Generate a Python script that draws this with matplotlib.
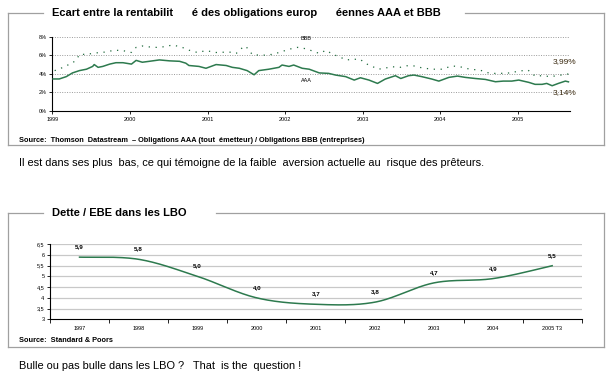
import numpy as np
import matplotlib
matplotlib.use("Agg")
import matplotlib.pyplot as plt
from matplotlib.lines import Line2D

plt.rcParams['font.family'] = ['Liberation Sans', 'DejaVu Sans']

W, H = 610, 378

# top chart : AAA / BBB yields in %, x in decimal years
aaa_t = [1999.01, 1999.09, 1999.18, 1999.26, 1999.35, 1999.44, 1999.52, 1999.54, 1999.59,
         1999.65, 1999.74, 1999.82, 1999.91, 2000.02, 2000.08, 2000.16, 2000.25, 2000.38,
         2000.51, 2000.64, 2000.72, 2000.76, 2000.89, 2000.98, 2001.11, 2001.24, 2001.32,
         2001.41, 2001.51, 2001.60, 2001.66, 2001.79, 2001.92, 2001.96, 2002.05, 2002.11,
         2002.22, 2002.31, 2002.44, 2002.56, 2002.65, 2002.78, 2002.89, 2002.97, 2003.08,
         2003.19, 2003.29, 2003.42, 2003.49, 2003.59, 2003.66, 2003.76, 2003.89, 2003.98,
         2004.11, 2004.22, 2004.32, 2004.45, 2004.58, 2004.71, 2004.81, 2004.92, 2005.01,
         2005.14, 2005.22, 2005.31, 2005.37, 2005.44, 2005.52, 2005.61, 2005.65]
aaa_v = [3.45, 3.45, 3.7, 4.1, 4.35, 4.5, 4.8, 5.0, 4.7,
         4.8, 5.05, 5.2, 5.2, 5.05, 5.45, 5.25, 5.35, 5.5,
         5.4, 5.35, 5.15, 4.9, 4.8, 4.6, 5.0, 4.9, 4.7,
         4.6, 4.35, 3.9, 4.35, 4.5, 4.7, 4.95, 4.8, 4.95,
         4.6, 4.5, 4.1, 4.05, 3.87, 3.7, 3.33, 3.58, 3.33,
         2.97, 3.44, 3.8, 3.5, 3.8, 3.87, 3.7, 3.44, 3.22,
         3.62, 3.76, 3.62, 3.5, 3.4, 3.15, 3.22, 3.22, 3.33,
         3.08, 2.87, 2.87, 2.97, 2.72, 2.97, 3.22, 3.14]

bbb_t = [1999.03, 1999.09, 1999.18, 1999.24, 1999.31, 1999.35, 1999.44, 1999.52, 1999.61,
         1999.69, 1999.80, 1999.91, 2000.02, 2000.08, 2000.16, 2000.25, 2000.34, 2000.42,
         2000.55, 2000.66, 2000.76, 2000.87, 2000.98, 2001.11, 2001.28, 2001.37, 2001.43,
         2001.49, 2001.58, 2001.71, 2001.84, 2001.96, 2002.05, 2002.16, 2002.27, 2002.44,
         2002.53, 2002.61, 2002.70, 2002.78, 2002.87, 2002.96, 2003.04, 2003.13, 2003.20,
         2003.28, 2003.37, 2003.48, 2003.57, 2003.66, 2003.76, 2003.89, 2004.02, 2004.15,
         2004.25, 2004.38, 2004.51, 2004.64, 2004.77, 2004.90, 2005.01, 2005.13, 2005.22,
         2005.31, 2005.42, 2005.65]
bbb_v = [4.35, 4.5, 4.9, 5.05, 5.5, 6.1, 6.1, 6.2, 6.3,
         6.35, 6.55, 6.5, 6.3, 6.85, 7.0, 6.9, 6.85, 6.9,
         7.1, 6.9, 6.55, 6.3, 6.5, 6.3, 6.35, 6.2, 6.7,
         7.0, 6.05, 6.0, 6.1, 6.4, 6.65, 6.85, 6.7, 6.2,
         6.55, 6.1, 5.85, 5.5, 5.55, 5.6, 5.1, 4.77, 4.5,
         4.6, 4.77, 4.7, 4.87, 4.85, 4.65, 4.5, 4.5, 4.85,
         4.77, 4.5, 4.4, 4.05, 4.05, 4.1, 4.3, 4.4, 3.76,
         3.8, 3.7, 3.99]

years = [1999, 2000, 2001, 2002, 2003, 2004, 2005]
pct_ticks = [0, 2, 4, 6, 8]

# bottom chart : dette / EBE
lbo_cats = ["1997", "1998", "1999", "2000", "2001", "2002", "2003", "2004", "2005 T3"]
lbo_vals = [5.9, 5.8, 5.0, 4.0, 3.7, 3.8, 4.7, 4.9, 5.5]
lbo_ticks = [3, 3.5, 4, 4.5, 5, 5.5, 6, 6.5]

GREEN = '#2d7a4e'
DOT_GREEN = '#1f6a3c'
FRAME = '#a0a0a0'


def fx(x):
    return x / W


def fy(y):
    return 1 - y / H


def frame(fig, left, top, right, bottom, gap):
    kw = dict(color=FRAME, lw=0.9, transform=fig.transFigure)
    fig.lines.append(Line2D([fx(left), fx(left)], [fy(top), fy(bottom)], **kw))
    fig.lines.append(Line2D([fx(right), fx(right)], [fy(top), fy(bottom)], **kw))
    fig.lines.append(Line2D([fx(left), fx(right)], [fy(bottom), fy(bottom)], **kw))
    fig.lines.append(Line2D([fx(left), fx(gap[0])], [fy(top), fy(top)], **kw))
    fig.lines.append(Line2D([fx(gap[1]), fx(right)], [fy(top), fy(top)], **kw))


def smooth(xs, ys, n=40):
    # excel-like smoothed line (bezier through the points)
    p = np.column_stack([xs, ys])
    out = []
    for i in range(len(p) - 1):
        p0 = p[max(i - 1, 0)]
        p1 = p[i]
        p2 = p[i + 1]
        p3 = p[min(i + 2, len(p) - 1)]
        c1 = p1 + (p2 - p0) / 6
        c2 = p2 - (p3 - p1) / 6
        t = np.linspace(0, 1, n)[:, None]
        out.append((1 - t) ** 3 * p1 + 3 * (1 - t) ** 2 * t * c1 + 3 * (1 - t) * t ** 2 * c2 + t ** 3 * p2)
    return np.vstack(out)


def axes_px(fig, left, top, right, bottom):
    return fig.add_axes([fx(left), fy(bottom), (right - left) / W, (bottom - top) / H])


fig = plt.figure(figsize=(W / 100, H / 100), dpi=100)

# ---------------- top panel
frame(fig, 8, 12.5, 604, 145, (43, 465))
fig.text(fx(51.7), fy(12.5), "Ecart entre la rentabilit      é des obligations europ      éennes AAA et BBB",
         fontsize=8, fontweight='bold', ha='left', va='center')

ax = axes_px(fig, 52.3, 36.7, 570, 111)
ax.set_xlim(1999, 2005.67)
ax.set_ylim(0, 8)
for v in pct_ticks[1:]:
    ax.axhline(v, color='#9a9a9a', lw=0.7, ls=(0, (1, 1.5)), zorder=1)
ax.plot(aaa_t, aaa_v, color=GREEN, lw=1.1, zorder=3)
ax.plot(bbb_t, bbb_v, color=DOT_GREEN, lw=0.9, ls=(0, (1, 4.5)), zorder=3)
ax.set_xticks(years)
ax.set_xticklabels([str(y) for y in years])
ax.set_yticks(pct_ticks)
ax.set_yticklabels([f"{v}%" for v in pct_ticks])
ax.tick_params(labelsize=4, length=2, width=0.6, pad=2)
for s in ['top', 'right']:
    ax.spines[s].set_visible(False)
for s in ['left', 'bottom']:
    ax.spines[s].set_linewidth(0.8)
ax.patch.set_alpha(0)
ax.text(2002.27, 7.85, "BBB", fontsize=4, ha='center', va='center')
ax.text(2002.27, 3.3, "AAA", fontsize=4, ha='center', va='center')
ax.annotate("3,99%", (bbb_t[-1], bbb_v[-1]), xytext=(-3, 9), textcoords='offset points',
            fontsize=6, ha='center', va='center', color='#3a2a10')
ax.annotate("3,14%", (aaa_t[-1], aaa_v[-1]), xytext=(-3, -7.5), textcoords='offset points',
            fontsize=6, ha='center', va='center', color='#3a2a10')

fig.text(fx(18.7), fy(140), "Source:  Thomson  Datastream  \u2013 Obligations AAA (tout  émetteur) / Obligations BBB (entreprises)",
         fontsize=5.3, fontweight='bold', ha='left', va='center')

fig.text(fx(18.7), fy(163.3),
         "Il est dans ses plus  bas, ce qui témoigne de la faible  aversion actuelle au  risque des prêteurs.",
         fontsize=7.9, ha='left', va='center')

# ---------------- bottom panel
frame(fig, 8, 213.3, 604, 346.7, (43, 216))
fig.text(fx(51.7), fy(213.3), "Dette / EBE dans les LBO", fontsize=8, fontweight='bold',
         ha='left', va='center')

bx = axes_px(fig, 50, 244.3, 581.7, 319.3)
n = len(lbo_cats)
xc = np.arange(n) + 0.5
bx.set_xlim(0, n)
bx.set_ylim(3, 6.5)
for v in lbo_ticks[1:]:
    bx.axhline(v, color='#c8c8c8', lw=0.9, zorder=1)
curve = smooth(xc, lbo_vals)
bx.plot(curve[:, 0], curve[:, 1], color=GREEN, lw=1.1, zorder=3)
for x, v in zip(xc, lbo_vals):
    bx.annotate(f"{v:.1f}".replace(".", ","), (x, v), xytext=(0, 7.5), textcoords='offset points',
                fontsize=4.5, fontweight='bold', ha='center', va='center')
bx.set_xticks(np.arange(n + 1))
bx.set_xticklabels([])
bx.set_xticks(xc, minor=True)
bx.set_xticklabels(lbo_cats, minor=True)
bx.tick_params(axis='x', which='minor', length=0, labelsize=4, pad=5)
bx.tick_params(axis='x', which='major', length=3, width=0.6)
bx.set_yticks(lbo_ticks)
bx.set_yticklabels([f"{v:g}".replace(".", ",") for v in lbo_ticks])
bx.tick_params(axis='y', labelsize=4, length=2, width=0.6, pad=2)
for s in ['top', 'right']:
    bx.spines[s].set_visible(False)
for s in ['left', 'bottom']:
    bx.spines[s].set_linewidth(0.8)
bx.patch.set_alpha(0)

fig.text(fx(18.7), fy(341), "Source:  Standard & Poors", fontsize=5.3, fontweight='bold',
         ha='left', va='center')

fig.text(fx(18.7), fy(365.7), "Bulle ou pas bulle dans les LBO ?   That  is the  question !",
         fontsize=7.9, ha='left', va='center')

fig.savefig("out.png", dpi=100)
